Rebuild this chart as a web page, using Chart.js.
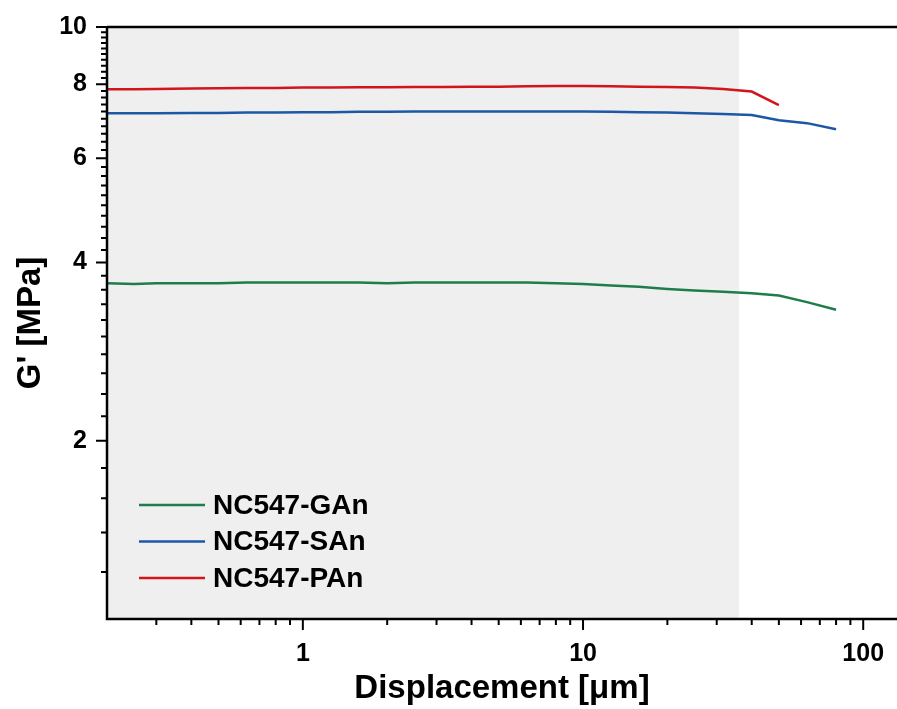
<!DOCTYPE html>
<html lang="en">
<head>
    <meta charset="UTF-8">
    <title>G' vs displacement</title>
    <script src="https://cdn.jsdelivr.net/npm/chart.js"></script>
    <style>
        html, body { margin: 0; padding: 0; background: #fff; }
        #wrap { width: 897px; height: 709px; }
    </style>
</head>
<body>
<div id="wrap"><canvas id="chart" width="897" height="709"></canvas></div>
<script>
    // Werte
    const displacement = [0.2, 0.25, 0.3, 0.4, 0.5, 0.63, 0.8, 1, 1.26, 1.58, 2, 2.5, 3.16, 4, 5, 6.3, 8, 10, 12.6, 15.8, 20, 25, 31.6, 40, 50, 63, 80];
    const gAn = [3.69, 3.68, 3.69, 3.69, 3.69, 3.7, 3.7, 3.7, 3.7, 3.7, 3.69, 3.7, 3.7, 3.7, 3.7, 3.7, 3.69, 3.68, 3.66, 3.64, 3.61, 3.59, 3.57, 3.55, 3.52, 3.43, 3.33];
    const sAn = [7.15, 7.15, 7.15, 7.16, 7.16, 7.17, 7.17, 7.18, 7.18, 7.19, 7.19, 7.2, 7.2, 7.2, 7.2, 7.2, 7.2, 7.2, 7.19, 7.18, 7.17, 7.15, 7.13, 7.1, 6.96, 6.88, 6.72];
    const pAn = [7.85, 7.85, 7.86, 7.87, 7.88, 7.89, 7.89, 7.9, 7.9, 7.91, 7.91, 7.92, 7.92, 7.93, 7.93, 7.94, 7.95, 7.95, 7.94, 7.93, 7.92, 7.9, 7.86, 7.78, 7.38];
    const seriesNames = ['NC547-GAn', 'NC547-SAn', 'NC547-PAn'];
    const seriesColors = ['#1f7d4b', '#1d58a6', '#d0151d'];

    const xTickLabels = [1, 10, 100];
    const yTickLabels = [2, 4, 6, 8, 10];
    const xMinor = [0.3, 0.4, 0.5, 0.6, 0.7, 0.8, 0.9, 2, 3, 4, 5, 6, 7, 8, 9, 20, 30, 40, 50, 60, 70, 80, 90];
    const yMinor = [];
    for (let v = 1.2; v < 9.9; v += 0.2) {
        const r = Math.round(v * 10) / 10;
        if (!yTickLabels.includes(r)) yMinor.push(r);
    }
    const shadeEnd = 36; // grauer Bereich bis hier

    const FONT = '"Liberation Sans", Arial, sans-serif';

    // keine automatischen Ränder durch Beschriftungen
    function noPadding(s) {
        s.paddingTop = 0;
        s.paddingBottom = 0;
        s.paddingLeft = 0;
        s.paddingRight = 0;
    }

    const frame = {
        id: 'frame',
        beforeDraw(chart) {
            const { ctx, chartArea: a, scales: { x } } = chart;
            ctx.save();
            ctx.fillStyle = '#efefef';
            const x0 = x.getPixelForValue(0.2);
            const x1 = x.getPixelForValue(shadeEnd);
            ctx.fillRect(x0, a.top, x1 - x0, a.bottom - a.top);
            ctx.restore();
        },
        afterDraw(chart) {
            const { ctx, chartArea: a, scales: { x, y } } = chart;
            ctx.save();
            ctx.strokeStyle = '#000';
            ctx.lineWidth = 2.5;
            ctx.beginPath();
            ctx.moveTo(a.left, a.top);
            ctx.lineTo(a.right, a.top);
            ctx.moveTo(a.left, a.top);
            ctx.lineTo(a.left, a.bottom);
            ctx.lineTo(a.right, a.bottom);
            ctx.stroke();
            // Ticks
            ctx.lineWidth = 2;
            ctx.beginPath();
            xTickLabels.forEach(v => {
                const px = x.getPixelForValue(v);
                ctx.moveTo(px, a.bottom); ctx.lineTo(px, a.bottom + 11);
            });
            xMinor.forEach(v => {
                const px = x.getPixelForValue(v);
                ctx.moveTo(px, a.bottom); ctx.lineTo(px, a.bottom + 6);
            });
            yTickLabels.forEach(v => {
                const py = y.getPixelForValue(v);
                ctx.moveTo(a.left, py); ctx.lineTo(a.left - 11, py);
            });
            yMinor.forEach(v => {
                const py = y.getPixelForValue(v);
                ctx.moveTo(a.left, py); ctx.lineTo(a.left - 6, py);
            });
            ctx.stroke();

            // Legende
            ctx.font = 'bold 28px ' + FONT;
            ctx.textBaseline = 'middle';
            ctx.textAlign = 'left';
            chart.data.datasets.forEach((ds, i) => {
                const ly = 505 + i * 36.5;
                ctx.strokeStyle = ds.borderColor;
                ctx.lineWidth = 2.5;
                ctx.beginPath();
                ctx.moveTo(139, ly); ctx.lineTo(205, ly);
                ctx.stroke();
                ctx.fillStyle = '#000';
                ctx.fillText(ds.label, 213, ly + 1);
            });
            ctx.restore();
        }
    };

    const datasets = [gAn, sAn, pAn].map((vals, i) => ({
        label: seriesNames[i],
        data: vals.map((v, k) => ({ x: displacement[k], y: v })),
        borderColor: seriesColors[i],
        backgroundColor: seriesColors[i],
        borderWidth: 2.5,
        pointRadius: 0,
        tension: 0,
        fill: false
    }));

    new Chart(document.getElementById('chart'), {
        type: 'line',
        data: { datasets },
        options: {
            responsive: false,
            animation: false,
            devicePixelRatio: 1,
            layout: { padding: { top: 27, right: 0, left: 0, bottom: 0 } },
            plugins: { legend: { display: false }, tooltip: { enabled: false } },
            scales: {
                x: {
                    type: 'logarithmic',
                    min: 0.2,
                    max: 132,
                    afterBuildTicks: s => { s.ticks = xTickLabels.map(v => ({ value: v })); },
                    afterFit: s => { s.height = 90; noPadding(s); },
                    grid: { display: false, drawTicks: false },
                    border: { display: false },
                    ticks: {
                        color: '#000',
                        font: { family: FONT, size: 25, weight: 'bold' },
                        padding: 20,
                        maxRotation: 0,
                        autoSkip: false,
                        callback: v => String(v)
                    },
                    title: {
                        display: true,
                        text: 'Displacement [\u03bcm]',
                        color: '#000',
                        font: { family: FONT, size: 33, weight: 'bold' },
                        padding: { top: 0, bottom: 0 }
                    }
                },
                y: {
                    type: 'logarithmic',
                    min: 1,
                    max: 10,
                    afterBuildTicks: s => { s.ticks = yTickLabels.map(v => ({ value: v })); },
                    afterFit: s => { s.width = 107; noPadding(s); },
                    grid: { display: false, drawTicks: false },
                    border: { display: false },
                    ticks: {
                        color: '#000',
                        font: { family: FONT, size: 25, weight: 'bold' },
                        padding: 20,
                        autoSkip: false,
                        callback: v => String(v)
                    },
                    title: {
                        display: true,
                        text: "G' [MPa]",
                        color: '#000',
                        font: { family: FONT, size: 33, weight: 'bold' },
                        padding: { top: 11, bottom: 0 }
                    }
                }
            }
        },
        plugins: [frame]
    });
</script>
</body>
</html>
